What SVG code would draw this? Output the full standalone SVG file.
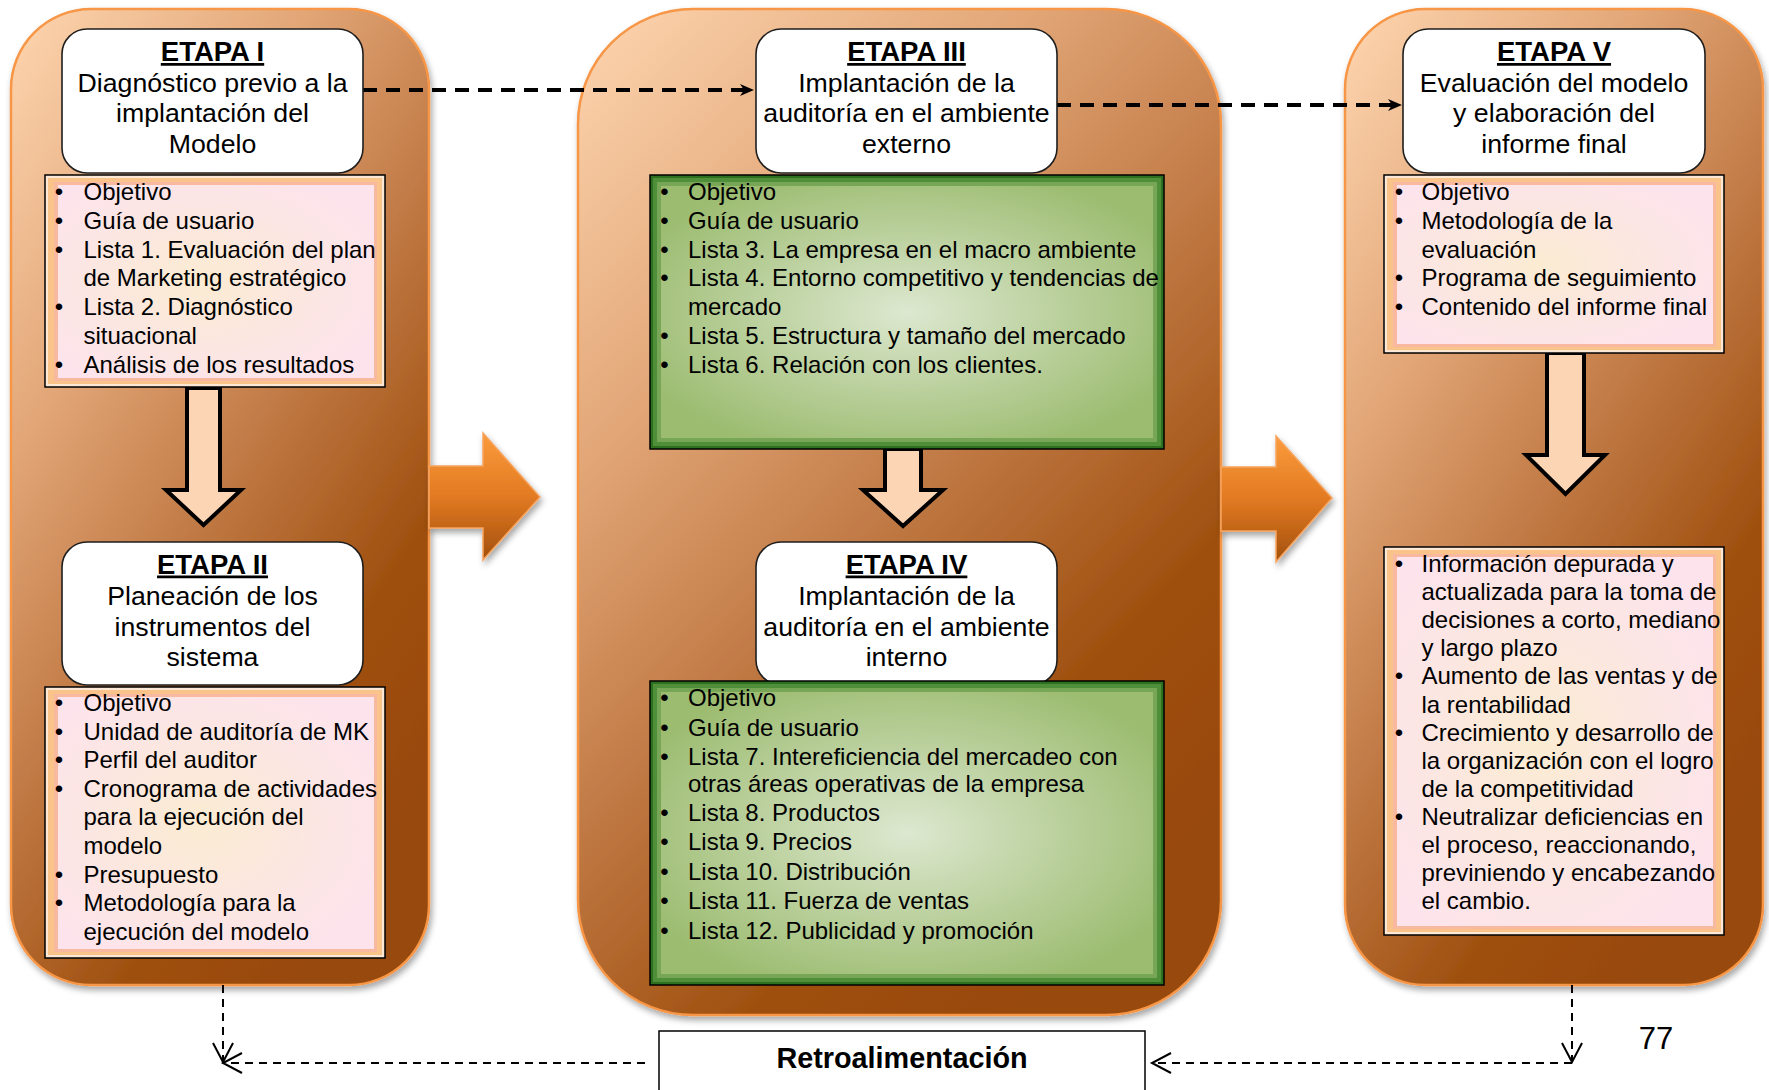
<svg xmlns="http://www.w3.org/2000/svg" width="1769" height="1090" viewBox="0 0 1769 1090">
<style>
  .t { font-family: "Liberation Sans", Arial, sans-serif; fill: #000; }
  .ttl { font-size: 27.5px; font-weight: bold; text-decoration: underline; text-anchor: middle; }
  .sub { font-size: 26.7px; text-anchor: middle; }
  .li { font-size: 24px; }
  .bul { font-size: 24px; text-anchor: middle; }
  .panel { fill: url(#panelG); stroke: #f79646; stroke-width: 2.5; filter: url(#shadow); }
  .etapa { fill: #fff; stroke: #1e1e1e; stroke-width: 1.6; }
  .pk0 { fill: #fde8d6; stroke: #000; stroke-width: 1.5; }
  .pk1 { fill: #fac38a; }
  .pk2 { fill: #f8b9a0; }
  .pk3 { fill: url(#pinkG); }
  .gr0 { fill: #2c7020; stroke: #000; stroke-width: 1.5; }
  .gr1 { fill: #4f8f3a; }
  .gr2 { fill: #78a657; }
  .gr3 { fill: url(#greenG); }
  .big { fill: url(#orangeG); stroke: #f7a45e; stroke-width: 1.5; filter: url(#shadow); }
  .down { fill: #fcd5b4; stroke: #000; stroke-width: 4; stroke-linejoin: miter; }
  .dashT { fill: none; stroke: #000; stroke-width: 4; stroke-dasharray: 14 9; }
  .dashF { fill: none; stroke: #000; stroke-width: 2; stroke-dasharray: 8 6; }
</style>
<defs>
  <linearGradient id="panelG" x1="0.05" y1="0" x2="0.7" y2="1">
    <stop offset="0" stop-color="#fcd3ad"/>
    <stop offset="0.3" stop-color="#e2a677"/>
    <stop offset="0.55" stop-color="#c17a45"/>
    <stop offset="0.8" stop-color="#9f500f"/>
    <stop offset="1" stop-color="#984807"/>
  </linearGradient>
  <radialGradient id="pinkG" cx="0.45" cy="0.5" r="0.6">
    <stop offset="0" stop-color="#fbecd2"/>
    <stop offset="0.6" stop-color="#fce6e2"/>
    <stop offset="1" stop-color="#fde4ec"/>
  </radialGradient>
  <radialGradient id="greenG" cx="0.5" cy="0.5" r="0.6">
    <stop offset="0" stop-color="#dde8d0"/>
    <stop offset="0.5" stop-color="#bcd19f"/>
    <stop offset="1" stop-color="#9cbc70"/>
  </radialGradient>
  <linearGradient id="orangeG" x1="0" y1="0" x2="0" y2="1">
    <stop offset="0" stop-color="#fb9b3c"/>
    <stop offset="0.5" stop-color="#e27a22"/>
    <stop offset="1" stop-color="#a24f0d"/>
  </linearGradient>
  <filter id="shadow" x="-10%" y="-10%" width="130%" height="130%">
    <feDropShadow dx="2" dy="4" stdDeviation="3" flood-color="#000" flood-opacity="0.35"/>
  </filter>
  <marker id="stealth" markerUnits="userSpaceOnUse" markerWidth="16" markerHeight="14" refX="4" refY="6" orient="auto">
    <path d="M0,0 L14,6 L0,12 L4,6 Z" fill="#000" stroke="none"/>
  </marker>
  <marker id="openV" markerUnits="userSpaceOnUse" markerWidth="24" markerHeight="24" refX="20" refY="11" orient="auto">
    <path d="M1,1 L20,11 L1,21" fill="none" stroke="#000" stroke-width="2" stroke-dasharray="none"/>
  </marker>
</defs>

<!-- stage containers -->
<g id="panel-izq"><rect class="panel" x="11" y="9" width="418" height="976" rx="80" ry="80"/></g>
<g id="panel-centro"><rect class="panel" x="578" y="9" width="643" height="1006" rx="115" ry="115"/></g>
<g id="panel-der"><rect class="panel" x="1345" y="9" width="418" height="976" rx="80" ry="80"/></g>

<g id="connectors">
  <path class="big" d="M429,466 L483,466 L483,433 L540,497 L483,560 L483,528 L429,528 Z"/>
  <path class="big" d="M1221,467 L1276,467 L1276,436 L1332,498 L1276,562 L1276,531 L1221,531 Z"/>
  <path class="down" d="M187,388 L220,388 L220,490 L241,490 L203.5,525 L166,490 L187,490 Z"/>
  <path class="down" d="M885,449 L921,449 L921,490 L943,490 L903,526 L863,490 L885,490 Z"/>
  <path class="down" d="M1547,353 L1584,353 L1584,455 L1605,455 L1565.5,494 L1526,455 L1547,455 Z"/>
  <line class="dashT" x1="363" y1="90" x2="744" y2="90" marker-end="url(#stealth)"/>
  <line class="dashT" x1="1057" y1="105" x2="1392" y2="105" marker-end="url(#stealth)"/>
  <line class="dashF" x1="223" y1="985" x2="223" y2="1062" marker-end="url(#openV)"/>
  <line class="dashF" x1="645" y1="1063" x2="223" y2="1063" marker-end="url(#openV)"/>
  <line class="dashF" x1="1572" y1="985" x2="1572" y2="1062" marker-end="url(#openV)"/>
  <line class="dashF" x1="1572" y1="1063" x2="1152" y2="1063" marker-end="url(#openV)"/>
</g>

<!-- ETAPA I -->
<g id="etapa-1">
  <rect class="etapa" x="62" y="29" width="301" height="144" rx="25"/>
  <text class="t ttl" x="212.5" y="61">ETAPA I</text>
  <text class="t sub" x="212.5" y="92">Diagnóstico previo a la</text>
  <text class="t sub" x="212.5" y="122">implantación del</text>
  <text class="t sub" x="212.5" y="152.5">Modelo</text>
</g>
<g id="lista-1">
  <rect class="pk0" x="45" y="175" width="340" height="212"/>
  <rect class="pk1" x="48" y="178" width="334" height="206"/>
  <rect class="pk2" x="54" y="182" width="323" height="199"/>
  <rect class="pk3" x="58" y="185" width="316" height="193"/>
  <g class="t bul">
    <text x="59" y="200">•</text><text x="59" y="228.8">•</text><text x="59" y="257.6">•</text><text x="59" y="315.2">•</text><text x="59" y="372.8">•</text>
  </g>
  <g class="t li">
    <text x="83.5" y="200">Objetivo</text>
    <text x="83.5" y="228.8">Guía de usuario</text>
    <text x="83.5" y="257.6">Lista 1. Evaluación del plan</text>
    <text x="83.5" y="286.4">de Marketing estratégico</text>
    <text x="83.5" y="315.2">Lista 2. Diagnóstico</text>
    <text x="83.5" y="344">situacional</text>
    <text x="83.5" y="372.8">Análisis de los resultados</text>
  </g>
</g>

<!-- ETAPA II -->
<g id="etapa-2">
  <rect class="etapa" x="62" y="542" width="301" height="143" rx="25"/>
  <text class="t ttl" x="212.5" y="573.5">ETAPA II</text>
  <text class="t sub" x="212.5" y="605">Planeación de los</text>
  <text class="t sub" x="212.5" y="635.5">instrumentos del</text>
  <text class="t sub" x="212.5" y="666">sistema</text>
</g>
<g id="lista-2">
  <rect class="pk0" x="45" y="687" width="340" height="271"/>
  <rect class="pk1" x="48" y="690" width="334" height="265"/>
  <rect class="pk2" x="54" y="694" width="323" height="258"/>
  <rect class="pk3" x="58" y="697" width="316" height="252"/>
  <g class="t bul">
    <text x="59" y="711">•</text><text x="59" y="739.6">•</text><text x="59" y="768.2">•</text><text x="59" y="796.8">•</text><text x="59" y="882.6">•</text><text x="59" y="911.2">•</text>
  </g>
  <g class="t li">
    <text x="83.5" y="711">Objetivo</text>
    <text x="83.5" y="739.6">Unidad de auditoría de MK</text>
    <text x="83.5" y="768.2">Perfil del auditor</text>
    <text x="83.5" y="796.8">Cronograma de actividades</text>
    <text x="83.5" y="825.4">para la ejecución del</text>
    <text x="83.5" y="854">modelo</text>
    <text x="83.5" y="882.6">Presupuesto</text>
    <text x="83.5" y="911.2">Metodología para la</text>
    <text x="83.5" y="939.8">ejecución del modelo</text>
  </g>
</g>

<!-- ETAPA III -->
<g id="etapa-3">
  <rect class="etapa" x="756" y="29" width="301" height="144" rx="25"/>
  <text class="t ttl" x="906.5" y="61">ETAPA III</text>
  <text class="t sub" x="906.5" y="92">Implantación de la</text>
  <text class="t sub" x="906.5" y="122">auditoría en el ambiente</text>
  <text class="t sub" x="906.5" y="152.5">externo</text>
</g>
<g id="lista-3">
  <rect class="gr0" x="650" y="175" width="514" height="274"/>
  <rect class="gr1" x="653" y="178" width="508" height="268"/>
  <rect class="gr2" x="657" y="182" width="500" height="260"/>
  <rect class="gr3" x="661" y="186" width="492" height="252"/>
  <g class="t bul">
    <text x="664.5" y="200">•</text><text x="664.5" y="228.8">•</text><text x="664.5" y="257.6">•</text><text x="664.5" y="286.4">•</text><text x="664.5" y="344">•</text><text x="664.5" y="372.8">•</text>
  </g>
  <g class="t li">
    <text x="688" y="200">Objetivo</text>
    <text x="688" y="228.8">Guía de usuario</text>
    <text x="688" y="257.6">Lista 3. La empresa en el macro ambiente</text>
    <text x="688" y="286.4">Lista 4. Entorno competitivo y tendencias de</text>
    <text x="688" y="315.2">mercado</text>
    <text x="688" y="344">Lista 5. Estructura y tamaño del mercado</text>
    <text x="688" y="372.8">Lista 6. Relación con los clientes.</text>
  </g>
</g>

<!-- ETAPA IV -->
<g id="etapa-4">
  <rect class="etapa" x="756" y="542" width="301" height="143" rx="25"/>
  <text class="t ttl" x="906.5" y="573.5">ETAPA IV</text>
  <text class="t sub" x="906.5" y="605">Implantación de la</text>
  <text class="t sub" x="906.5" y="635.5">auditoría en el ambiente</text>
  <text class="t sub" x="906.5" y="666">interno</text>
</g>
<g id="lista-4">
  <rect class="gr0" x="650" y="681" width="514" height="304"/>
  <rect class="gr1" x="653" y="684" width="508" height="298"/>
  <rect class="gr2" x="657" y="688" width="500" height="290"/>
  <rect class="gr3" x="661" y="692" width="492" height="282"/>
  <g class="t bul">
    <text x="664.5" y="706">•</text><text x="664.5" y="735.5">•</text><text x="664.5" y="764.5">•</text><text x="664.5" y="821">•</text><text x="664.5" y="850">•</text><text x="664.5" y="879.5">•</text><text x="664.5" y="909">•</text><text x="664.5" y="938.5">•</text>
  </g>
  <g class="t li">
    <text x="688" y="706">Objetivo</text>
    <text x="688" y="735.5">Guía de usuario</text>
    <text x="688" y="764.5">Lista 7. Intereficiencia del mercadeo con</text>
    <text x="688" y="792">otras áreas operativas de la empresa</text>
    <text x="688" y="821">Lista 8. Productos</text>
    <text x="688" y="850">Lista 9. Precios</text>
    <text x="688" y="879.5">Lista 10. Distribución</text>
    <text x="688" y="909">Lista 11. Fuerza de ventas</text>
    <text x="688" y="938.5">Lista 12. Publicidad y promoción</text>
  </g>
</g>

<!-- ETAPA V -->
<g id="etapa-5">
  <rect class="etapa" x="1403" y="29" width="302" height="144" rx="25"/>
  <text class="t ttl" x="1554" y="61">ETAPA V</text>
  <text class="t sub" x="1554" y="92">Evaluación del modelo</text>
  <text class="t sub" x="1554" y="122">y elaboración del</text>
  <text class="t sub" x="1554" y="152.5">informe final</text>
</g>
<g id="lista-5">
  <rect class="pk0" x="1384" y="175" width="340" height="178"/>
  <rect class="pk1" x="1387" y="178" width="334" height="172"/>
  <rect class="pk2" x="1393" y="182" width="323" height="165"/>
  <rect class="pk3" x="1397" y="185" width="316" height="159"/>
  <g class="t bul">
    <text x="1399" y="200">•</text><text x="1399" y="228.8">•</text><text x="1399" y="286.4">•</text><text x="1399" y="315.2">•</text>
  </g>
  <g class="t li">
    <text x="1421.5" y="200">Objetivo</text>
    <text x="1421.5" y="228.8">Metodología de la</text>
    <text x="1421.5" y="257.6">evaluación</text>
    <text x="1421.5" y="286.4">Programa de seguimiento</text>
    <text x="1421.5" y="315.2">Contenido del informe final</text>
  </g>
</g>
<g id="resultados">
  <rect class="pk0" x="1384" y="547" width="340" height="388"/>
  <rect class="pk1" x="1387" y="550" width="334" height="382"/>
  <rect class="pk2" x="1393" y="554" width="323" height="375"/>
  <rect class="pk3" x="1397" y="557" width="316" height="369"/>
  <g class="t bul">
    <text x="1399" y="572">•</text><text x="1399" y="684.4">•</text><text x="1399" y="740.6">•</text><text x="1399" y="824.9">•</text>
  </g>
  <g class="t li">
    <text x="1421.5" y="572">Información depurada y</text>
    <text x="1421.5" y="600.1">actualizada para la toma de</text>
    <text x="1421.5" y="628.2">decisiones a corto, mediano</text>
    <text x="1421.5" y="656.3">y largo plazo</text>
    <text x="1421.5" y="684.4">Aumento de las ventas y de</text>
    <text x="1421.5" y="712.5">la rentabilidad</text>
    <text x="1421.5" y="740.6">Crecimiento y desarrollo de</text>
    <text x="1421.5" y="768.7">la organización con el logro</text>
    <text x="1421.5" y="796.8">de la competitividad</text>
    <text x="1421.5" y="824.9">Neutralizar deficiencias en</text>
    <text x="1421.5" y="853">el proceso, reaccionando,</text>
    <text x="1421.5" y="881.1">previniendo y encabezando</text>
    <text x="1421.5" y="909.2">el cambio.</text>
  </g>
</g>

<!-- Retroalimentación -->
<g id="retroalimentacion">
  <rect x="659" y="1031" width="486" height="70" fill="#fff" stroke="#000" stroke-width="1.5"/>
  <text class="t" x="902" y="1068" font-size="28.8" font-weight="bold" text-anchor="middle">Retroalimentación</text>
</g>

<text class="t" x="1656" y="1049" font-size="31" text-anchor="middle">77</text>
</svg>
